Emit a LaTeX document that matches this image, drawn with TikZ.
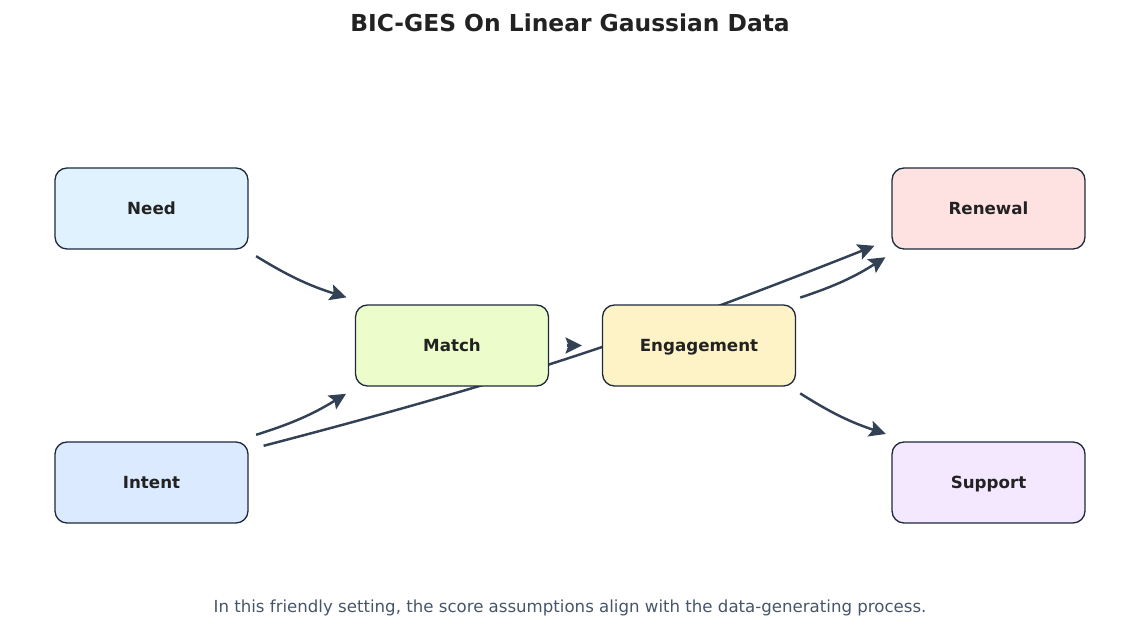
\documentclass[tikz,border=0pt]{standalone}
\usepackage{fontspec}
\setmainfont{DejaVu Sans}
\usepackage{tikz}
\usetikzlibrary{arrows.meta, backgrounds, calc}
\definecolor{ink}{HTML}{222222}
\definecolor{frame}{HTML}{1E293B}
\definecolor{wire}{HTML}{334155}
\definecolor{note}{HTML}{475569}
\definecolor{needfill}{HTML}{E0F2FE}
\definecolor{matchfill}{HTML}{ECFCCB}
\definecolor{engfill}{HTML}{FEF3C7}
\definecolor{renewfill}{HTML}{FEE2E2}
\definecolor{intentfill}{HTML}{DBEAFE}
\definecolor{supportfill}{HTML}{F3E8FF}

\tikzset{
  stage/.style={draw=frame, line width=0.75pt, rounded corners=0.24cm,
    minimum width=3.86cm, minimum height=1.62cm, text=ink,
    text height=0.74em, text depth=0.02em,
    font=\fontsize{9.5}{11}\selectfont\bfseries},
  link/.style={draw=wire, line width=1.4pt,
    -{Stealth[length=0.33cm, width=0.32cm, inset=0.06cm]}}
}

\begin{document}
\begin{tikzpicture}[x=0.02cm, y=-0.02cm]
  \useasboundingbox (0, 0) rectangle (1140, 644);

  \node[text=ink, font=\fontsize{13.3}{15}\selectfont\bfseries] (title) at (570, 23) {BIC-GES On Linear Gaussian Data};

  \node[stage, fill=needfill] (need) at (151.5, 208.5) {Need};
  \node[stage, fill=intentfill] (intent) at (151.5, 482.5) {Intent};
  \node[stage, fill=matchfill] (match) at (452, 345.5) {Match};
  \node[stage, fill=engfill] (engagement) at (699, 345.5) {Engagement};
  \node[stage, fill=renewfill] (renewal) at (988.5, 208.5) {Renewal};
  \node[stage, fill=supportfill] (support) at (988.5, 482.5) {Support};

  % ends sit on the line between the two centres
  \begin{scope}[on background layer]
    \draw[link] ($(need)!2.3cm!(match)$) to[bend right=7] ($(match)!2.32cm!(need)$);
    \draw[link] ($(intent)!2.3cm!(match)$) to[bend right=7] ($(match)!2.33cm!(intent)$);
    \draw[link] ($(match)!2.3cm!(engagement)$) -- ($(engagement)!2.34cm!(match)$);
    \draw[link] ($(intent)!2.36cm!(renewal)$) to[bend right=3.5] ($(renewal)!2.4cm!(intent)$);
    \draw[link] ($(engagement)!2.24cm!(renewal)$) to[bend right=7] ($(renewal)!2.28cm!(engagement)$);
    \draw[link] ($(engagement)!2.24cm!(support)$) to[bend right=7] ($(support)!2.27cm!(engagement)$);
  \end{scope}

  \node[text=note, font=\fontsize{9.45}{11}\selectfont] (caption) at (570, 608) {In this friendly setting, the score assumptions align with the data-generating process.};
\end{tikzpicture}
\end{document}
